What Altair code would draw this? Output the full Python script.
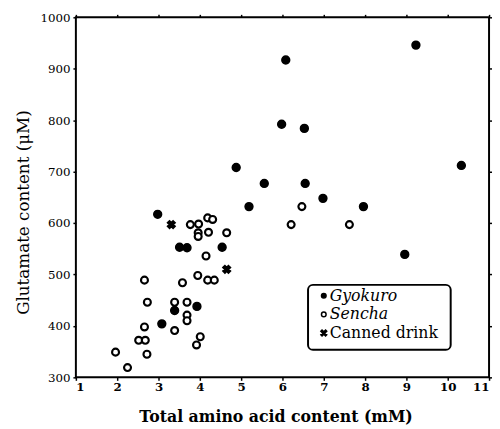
import altair as alt
import pandas as pd

categories = ["Gyokuro", "Sencha", "Canned drink"]

gyokuro_x = [6.08, 9.23, 5.98, 6.53, 10.33, 4.88, 5.56, 6.55, 7.96, 5.19, 8.96, 2.98, 6.98,
             3.51, 3.69, 4.54, 3.93, 3.39, 3.08]
gyokuro_y = [917, 946, 792, 784, 712, 708, 677, 677, 632, 632, 539, 617, 648,
             553, 552, 553, 438, 430, 404]

sencha_x = [6.47, 6.21, 7.62, 3.77, 3.97, 3.96, 3.96, 4.19, 4.31, 4.21, 4.65, 4.15,
            2.66, 3.58, 3.95, 4.19, 4.35, 2.73, 3.39, 3.69, 3.69, 3.69, 2.66, 3.39,
            2.52, 2.68, 4.01, 3.92, 1.96, 2.72, 2.25]
sencha_y = [632, 597, 597, 597, 598, 581, 574, 610, 607, 582, 581, 536,
            489, 484, 498, 489, 489, 446, 446, 446, 421, 410, 398, 391,
            372, 372, 379, 363, 349, 345, 319]

canned_x = [3.31, 4.65]
canned_y = [597, 510]

x_ticks = list(range(1, 12))
y_ticks = list(range(300, 1001, 100))

df = pd.DataFrame({
    "x": gyokuro_x + sencha_x + canned_x,
    "y": gyokuro_y + sencha_y + canned_y,
    "type": ["Gyokuro"] * len(gyokuro_x) + ["Sencha"] * len(sencha_x) + ["Canned drink"] * len(canned_x),
})

X_PATH = "M-1,-0.6L-0.6,-1L1,0.6L0.6,1ZM0.6,-1L1,-0.6L-0.6,1L-1,0.6Z"
SERIF = "DejaVu Serif"
shapes = ["circle", "circle", X_PATH]
fills = ["black", "white", "black"]

xscale = alt.Scale(domain=[1, 11], nice=False, zero=False)
yscale = alt.Scale(domain=[300, 1000], nice=False, zero=False)

points = alt.Chart(df).mark_point(filled=True, stroke="black", opacity=1).encode(
    x=alt.X("x:Q", scale=xscale, axis=alt.Axis(
        values=x_ticks, title="Total amino acid content (mM)", grid=False, domain=False,
        tickSize=3, tickColor="black", tickWidth=1.5, labelFont=SERIF, labelFontSize=12,
        labelFontWeight="bold", labelColor="black", labelPadding=1,
        titleFont=SERIF, titleFontSize=16, titleFontWeight="bold", titleColor="black",
        titleX=203, titleY=45, titleBaseline="alphabetic", titleAlign="center")),
    y=alt.Y("y:Q", scale=yscale, axis=alt.Axis(
        values=y_ticks, format="d", title="Glutamate content (μM)", grid=False, domain=False,
        tickSize=3, tickColor="black", tickWidth=1.5, labelFont=SERIF, labelFontSize=12,
        labelColor="black", labelPadding=3,
        titleFont=SERIF, titleFontSize=17, titleFontWeight="normal", titleColor="black",
        titleX=-48, titleY=198, titleBaseline="alphabetic", titleAlign="center", titleAngle=270)),
    fill=alt.Fill("type:N", scale=alt.Scale(domain=categories, range=fills), legend=None),
    shape=alt.Shape("type:N", scale=alt.Scale(domain=categories, range=shapes), legend=None),
    size=alt.Size("type:N", scale=alt.Scale(domain=categories, range=[64, 36, 81]), legend=None),
    strokeWidth=alt.StrokeWidth("type:N", scale=alt.Scale(domain=categories, range=[1.5, 2.8, 0.8]), legend=None),
)

frame_axes = alt.Chart(df).mark_point(opacity=0).encode(
    x=alt.X("x:Q", scale=xscale, axis=alt.Axis(orient="top", values=x_ticks, labels=False, title=None,
                                               grid=False, domain=False, tickSize=3, tickColor="black", tickWidth=1.5)),
    y=alt.Y("y:Q", scale=yscale, axis=alt.Axis(orient="right", values=y_ticks, labels=False, title=None,
                                               grid=False, domain=False, tickSize=3, tickColor="black", tickWidth=1.5)),
)

# hand-built legend box (the native legend cannot mix italic and upright labels)
legend_box = alt.Chart(pd.DataFrame({"k": [0]})).mark_rect(
    fill="white", stroke="black", strokeWidth=2, cornerRadius=5
).encode(x=alt.value(236), x2=alt.value(381), y=alt.value(272), y2=alt.value(338))

legend_layers = [legend_box]
for i, cat in enumerate(categories):
    row = alt.Chart(pd.DataFrame({"type": [cat]}))
    ly = 283 + 19 * i
    legend_layers.append(row.mark_point(
        filled=True, stroke="black", strokeWidth=1.5, opacity=1,
        size=[22, 22, 36][i], fill=fills[i], shape=shapes[i]
    ).encode(x=alt.value(252), y=alt.value(ly)))
    legend_layers.append(row.mark_text(
        align="left", baseline="middle", font=SERIF, fontSize=16, color="black",
        fontStyle="normal" if cat == "Canned drink" else "italic"
    ).encode(x=alt.value(258), y=alt.value(ly), text="type:N"))

chart = alt.layer(points, frame_axes, *legend_layers).resolve_axis(
    x="independent", y="independent"
).properties(
    width=420, height=366,
    padding={"left": 69, "top": 6, "right": 3, "bottom": 47},
    autosize=alt.AutoSizeParams(type="none"),
).configure_view(stroke="black", strokeWidth=2)

chart.save("out.html", embed_options={"renderer": "svg", "actions": False})
